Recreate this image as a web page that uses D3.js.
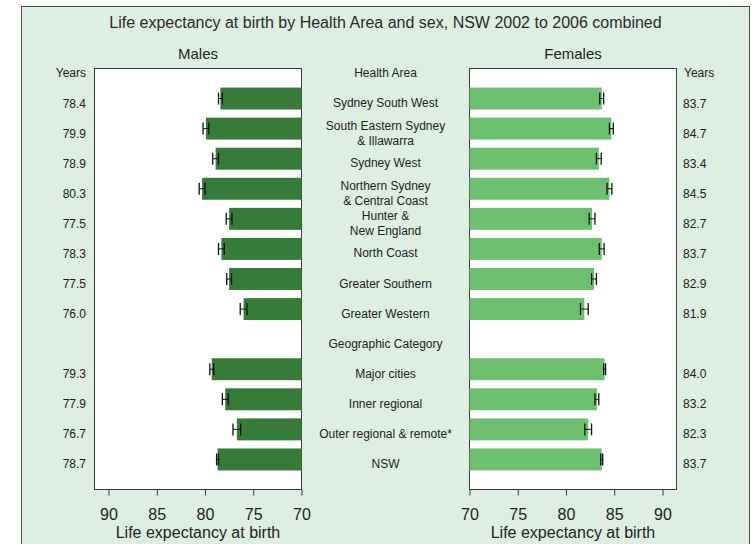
<!DOCTYPE html>
<html>
<head>
<meta charset="utf-8">
<script src="https://cdn.jsdelivr.net/npm/d3@7"></script>
<style>
  html, body { margin: 0; padding: 0; background: #ffffff; }
  svg { display: block; }
  text { font-family: "Liberation Sans", Arial, sans-serif; fill: #222; }
</style>
</head>
<body>
<svg id="chart" width="755" height="544"></svg>
<script>
// Rows of the chart (top to bottom); "Geographic Category" is a sub-heading row
const rows = [
  "Sydney South West",
  "South Eastern Sydney\n& Illawarra",
  "Sydney West",
  "Northern Sydney\n& Central Coast",
  "Hunter &\nNew England",
  "North Coast",
  "Greater Southern",
  "Greater Western",
  "Geographic Category",
  "Major cities",
  "Inner regional",
  "Outer regional & remote*",
  "NSW"
];

// Life expectancy at birth (years), null for the heading row
const males   = [78.4, 79.9, 78.9, 80.3, 77.5, 78.3, 77.5, 76.0, null, 79.3, 77.9, 76.7, 78.7];
const females = [83.7, 84.7, 83.4, 84.5, 82.7, 83.7, 82.9, 81.9, null, 84.0, 83.2, 82.3, 83.7];

// 95% confidence limits
const malesLow    = [78.2, 79.6, 78.6, 80.0, 77.2, 78.0, 77.25, 75.65, null, 79.1, 77.6, 76.3, 78.6];
const malesHigh   = [78.6, 80.2, 79.2, 80.6, 77.8, 78.6, 77.75, 76.35, null, 79.5, 78.2, 77.1, 78.8];
const femalesLow  = [83.5, 84.5, 83.15, 84.25, 82.4, 83.45, 82.65, 81.5, null, 83.9, 83.0, 81.95, 83.6];
const femalesHigh = [83.9, 84.9, 83.65, 84.75, 83.0, 83.95, 83.15, 82.3, null, 84.1, 83.4, 82.65, 83.8];

const tickValues = [70, 75, 80, 85, 90];

const title = "Life expectancy at birth by Health Area and sex, NSW 2002 to 2006 combined";
const axisTitle = "Life expectancy at birth";

const colMales = "#377b38";
const colFemales = "#6cc06f";
const bg = "#deeee3";

const svg = d3.select("#chart");

// outer frame
svg.append("rect")
  .attr("x", 21.5).attr("y", 6.5)
  .attr("width", 728).attr("height", 570)
  .attr("fill", bg).attr("stroke", "#4d4d4d").attr("stroke-width", 1);

const plotTop = 68.5, plotBottom = 489.5;

const xL = d3.scaleLinear().domain([70, 91.45]).range([301.5, 94.5]);
const xR = d3.scaleLinear().domain([70, 91.45]).range([469.5, 676.5]);

const y = d3.scaleBand()
  .domain(rows)
  .range([plotTop + 15, plotBottom - 15])
  .paddingInner(0.27)
  .paddingOuter(0.135);

const cy = r => y(r) + y.bandwidth() / 2;

svg.append("text")
  .attr("x", 385.5).attr("y", 27.5)
  .attr("text-anchor", "middle")
  .style("font-size", "16px")
  .style("fill", "#2a2a2a")
  .text(title);

function panel(x, vals, lo, hi, color, name) {
  const [r0, r1] = x.range();
  const x0 = Math.min(r0, r1), x1 = Math.max(r0, r1);
  const g = svg.append("g");

  g.append("rect")
    .attr("x", x0).attr("y", plotTop)
    .attr("width", x1 - x0).attr("height", plotBottom - plotTop)
    .attr("fill", "#ffffff").attr("stroke", "#3a3a3a").attr("stroke-width", 1);

  const data = rows.map((r, i) => ({ r, v: vals[i], lo: lo[i], hi: hi[i] }))
    .filter(d => d.v != null);

  g.selectAll("rect.bar").data(data).join("rect")
    .attr("class", "bar")
    .attr("x", d => Math.min(x(70), x(d.v)))
    .attr("width", d => Math.abs(x(d.v) - x(70)))
    .attr("y", d => y(d.r))
    .attr("height", y.bandwidth())
    .attr("fill", color);

  // confidence interval markers
  const ci = g.selectAll("g.ci").data(data).join("g").attr("class", "ci");
  ci.append("line")
    .attr("x1", d => x(d.lo)).attr("x2", d => x(d.hi))
    .attr("y1", d => cy(d.r)).attr("y2", d => cy(d.r))
    .attr("stroke", "#111").attr("stroke-width", 1);
  ci.append("line")
    .attr("x1", d => x(d.lo)).attr("x2", d => x(d.lo))
    .attr("y1", d => cy(d.r) - 6).attr("y2", d => cy(d.r) + 6)
    .attr("stroke", "#111").attr("stroke-width", 1.3);
  ci.append("line")
    .attr("x1", d => x(d.hi)).attr("x2", d => x(d.hi))
    .attr("y1", d => cy(d.r) - 6).attr("y2", d => cy(d.r) + 6)
    .attr("stroke", "#111").attr("stroke-width", 1.3);

  // axis
  const ax = g.append("g")
    .attr("transform", `translate(0,${plotBottom})`)
    .call(d3.axisBottom(x).tickValues(tickValues).tickSize(6).tickPadding(0).tickFormat(d3.format("d")));
  ax.select(".domain").remove();
  ax.selectAll(".tick line").attr("stroke", "#3a3a3a");
  ax.selectAll(".tick text")
    .attr("y", 0).attr("dy", null)
    .attr("transform", "translate(0,30)")
    .style("font-size", "16px")
    .style("font-family", "\"Liberation Sans\", Arial, sans-serif")
    .attr("fill", "#222");

  g.append("text")
    .attr("x", (x0 + x1) / 2).attr("y", 538)
    .attr("text-anchor", "middle")
    .style("font-size", "16px")
    .text(axisTitle);

  g.append("text")
    .attr("x", (x0 + x1) / 2).attr("y", 59)
    .attr("text-anchor", "middle")
    .style("font-size", "15px")
    .text(name);
}

panel(xL, males, malesLow, malesHigh, colMales, "Males");
panel(xR, females, femalesLow, femalesHigh, colFemales, "Females");

// value columns
const fmt = d3.format(".1f");
svg.append("text").attr("x", 86).attr("y", 77).attr("text-anchor", "end")
  .style("font-size", "12px").text("Years");
svg.append("text").attr("x", 684).attr("y", 77).attr("text-anchor", "start")
  .style("font-size", "12px").text("Years");

svg.selectAll("text.vm").data(rows.map((r, i) => ({ r, v: males[i] })).filter(d => d.v != null))
  .join("text").attr("class", "vm")
  .attr("x", 86).attr("y", d => cy(d.r) + 9)
  .attr("text-anchor", "end").style("font-size", "12px")
  .text(d => fmt(d.v));

svg.selectAll("text.vf").data(rows.map((r, i) => ({ r, v: females[i] })).filter(d => d.v != null))
  .join("text").attr("class", "vf")
  .attr("x", 683).attr("y", d => cy(d.r) + 9)
  .attr("text-anchor", "start").style("font-size", "12px")
  .text(d => fmt(d.v));

// centre category labels
const cx = (xL.range()[0] + xR.range()[0]) / 2;
svg.append("text").attr("x", cx).attr("y", 77).attr("text-anchor", "middle")
  .style("font-size", "12px").text("Health Area");

rows.forEach(r => {
  const lines = r.split("\n");
  const t = svg.append("text").attr("text-anchor", "middle").style("font-size", "12px");
  if (lines.length === 1) {
    t.attr("x", cx).attr("y", cy(r) + 8.5).text(r);
  } else {
    lines.forEach((ln, k) => {
      t.append("tspan").attr("x", cx).attr("y", cy(r) + 1 + k * 15).text(ln);
    });
  }
});
</script>
</body>
</html>
